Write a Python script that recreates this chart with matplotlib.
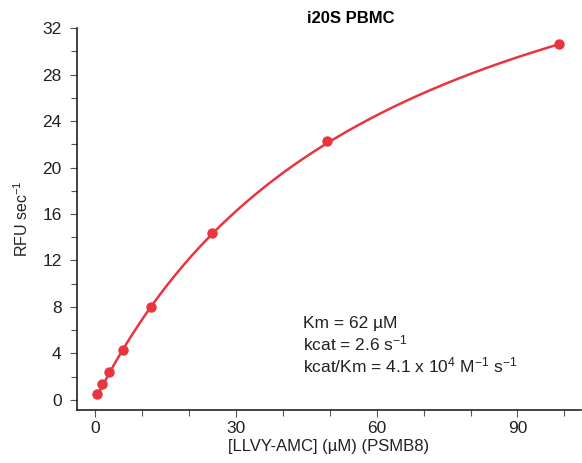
import numpy as np
import matplotlib
matplotlib.use('Agg')
import matplotlib.pyplot as plt

plt.rcParams['font.family'] = ['Liberation Sans', 'DejaVu Sans']
plt.rcParams['mathtext.default'] = 'regular'

# substrate concentration (uM) and rate (RFU/s)
conc = [0.4, 1.5, 3.0, 6.0, 12.0, 24.8, 49.4, 98.9]
rate = [0.52, 1.35, 2.38, 4.3, 7.97, 14.4, 22.3, 30.6]
km = 62.0
vmax = 49.8

red = '#e8363f'

fig = plt.figure(figsize=(5.82, 4.63), dpi=100)
ax = fig.add_axes([0.132, 0.1145, 0.866, 0.825])

xs = np.linspace(conc[0], conc[-1], 300)
ax.plot(xs, vmax * xs / (km + xs), color=red, lw=1.8, zorder=2)
ax.plot(conc, rate, 'o', color=red, ms=6.5, zorder=3)

ax.set_xlim(-3.9, 103.5)
ax.set_ylim(-0.86, 32)
ax.set_xticks([0, 30, 60, 90])
ax.set_xticks([10, 20, 40, 50, 70, 80, 100], minor=True)
ax.set_yticks(range(0, 33, 4))
ax.set_yticks(range(2, 32, 4), minor=True)
ax.tick_params(which='both', direction='out', color='#555555', labelsize=12.5, labelcolor='#222222')
ax.tick_params(which='major', length=5, width=0.8, pad=3)
ax.tick_params(which='minor', length=4, width=0.8)
ax.tick_params(axis='y', which='major', pad=6)
for s in ['top', 'right']:
    ax.spines[s].set_visible(False)
for s in ['left', 'bottom']:
    ax.spines[s].set_linewidth(1.2)
    ax.spines[s].set_color('#222222')
ax.spines['left'].set_bounds(-0.86, 32)

ax.set_xlabel('[LLVY-AMC] (µM) (PSMB8)', fontsize=12, color='#222222', labelpad=2)
ax.set_ylabel('RFU sec$^{-1}$', fontsize=11.5, color='#222222', labelpad=8)
fig.text(0.603, 0.96, 'i20S PBMC', fontsize=12, fontweight='bold', ha='center', va='center')

params = ['Km = 62 µM', 'kcat = 2.6 s$^{-1}$', 'kcat/Km = 4.1 x 10$^{4}$ M$^{-1}$ s$^{-1}$']
for i, t in enumerate(params):
    ax.text(0.448, 0.215 - i * 0.058, t, transform=ax.transAxes, fontsize=12.5,
            color='#222222', va='baseline', ha='left')

fig.savefig('out.png', dpi=100)
